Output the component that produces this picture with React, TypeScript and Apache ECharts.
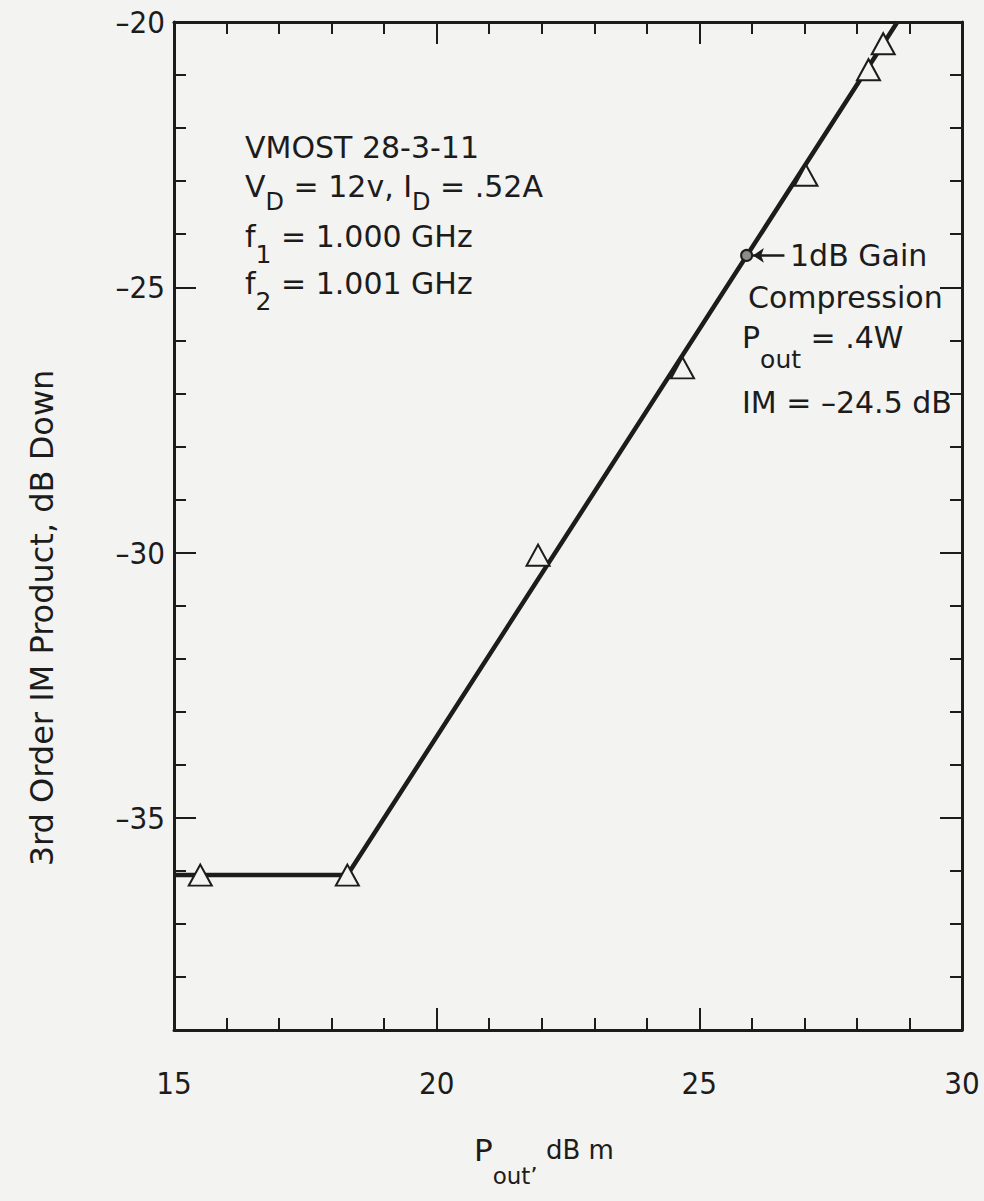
import React, { useEffect, useRef } from "react";
import * as echarts from "echarts";

// ---- data ----
const xTickLabels = [15, 20, 25, 30];
const yTickLabels = [-35, -30, -25, -20];
const xMajorTicks = [20, 25];
const yMajorTicks = [-35, -30, -25];
const measuredPout = [15.5, 18.3, 21.93, 24.68, 27.03, 28.22, 28.5];
const measuredIM = [-36.08, -36.08, -30.05, -26.52, -22.89, -20.9, -20.41];
const fitPout = [15, 18.3, 28.77];
const fitIM = [-36.08, -36.08, -20];
const compressionPout = [25.9];
const compressionIM = [-24.4];
const arrowPout = [26.62, 26.02];
const arrowIM = [-24.4, -24.4];

const INK = "#1c1c1c";
const BG = "#f3f3f1";
const F = '"DejaVu Sans", sans-serif';
const FN = '"DejaVu Sans Condensed", sans-serif';
const FS = 30;
const SUBFS = 25;

let ctx: CanvasRenderingContext2D | null = null;
function measure(t: string, size: number, fam: string) {
  if (!ctx) ctx = document.createElement("canvas").getContext("2d");
  if (!ctx) return t.length * size * 0.6;
  ctx.font = `${size}px ${fam}`;
  return ctx.measureText(t).width;
}

// parts: [text, subscript?, fontSize?]
function seq(x0: number, y: number, parts: [string, boolean, number?][], subDy = 20) {
  let x = x0;
  const out: any[] = [];
  for (const [t, sub, fs] of parts) {
    const size = fs || (sub ? SUBFS : FS);
    out.push({
      type: "text",
      x,
      y: sub ? y + subDy : y,
      z: 100,
      style: {
        text: t,
        fontSize: size,
        fontFamily: F,
        fill: INK,
        align: "left",
        verticalAlign: "middle",
      },
    });
    x += measure(t, size, F);
  }
  return out;
}

export default function App() {
  const ref = useRef<HTMLDivElement>(null);
  useEffect(() => {
    if (!ref.current) return;
    const chart = echarts.init(ref.current, null, { renderer: "svg" });
    const xFmt = (v: number) => (xTickLabels.includes(v) ? String(v) : "");
    const yFmt = (v: number) =>
      yTickLabels.includes(v) ? (v < 0 ? "\u2013" + -v : String(v)) : "";
    const xBase = { type: "value", min: 15, max: 30, interval: 1, splitLine: { show: false } };
    const yBase = { type: "value", min: -39, max: -20, interval: 1, splitLine: { show: false } };
    const line = { show: true, onZero: false, lineStyle: { color: INK, width: 3 } };
    const tick = { show: true, inside: true, length: 12, lineStyle: { color: INK, width: 2 } };
    const majTick = (vals: number[]) => ({
      show: true,
      inside: true,
      length: 22,
      customValues: vals,
      lineStyle: { color: INK, width: 2 },
    });
    const lbl = { fontSize: 31, fontFamily: FN, color: INK };
    const option: any = {
      animation: false,
      backgroundColor: BG,
      grid: { left: 174, right: 22, top: 22, bottom: 171 },
      xAxis: [
        {
          ...xBase,
          position: "bottom",
          axisLine: line,
          axisTick: tick,
          axisLabel: { ...lbl, formatter: xFmt, margin: 37 },
        },
        { ...xBase, position: "top", axisLine: line, axisTick: tick, axisLabel: { show: false } },
        {
          ...xBase,
          position: "bottom",
          axisLine: { show: false },
          axisTick: majTick(xMajorTicks),
          axisLabel: { show: false },
        },
        {
          ...xBase,
          position: "top",
          axisLine: { show: false },
          axisTick: majTick(xMajorTicks),
          axisLabel: { show: false },
        },
      ],
      yAxis: [
        {
          ...yBase,
          position: "left",
          axisLine: line,
          axisTick: tick,
          axisLabel: { ...lbl, formatter: yFmt, margin: 9 },
        },
        { ...yBase, position: "right", axisLine: line, axisTick: tick, axisLabel: { show: false } },
        {
          ...yBase,
          position: "left",
          axisLine: { show: false },
          axisTick: majTick(yMajorTicks),
          axisLabel: { show: false },
        },
        {
          ...yBase,
          position: "right",
          axisLine: { show: false },
          axisTick: majTick(yMajorTicks),
          axisLabel: { show: false },
        },
      ],
      series: [
        {
          type: "line",
          data: fitPout.map((p, i) => [p, fitIM[i]]),
          symbol: "none",
          lineStyle: { color: INK, width: 4.5 },
          z: 2,
        },
        {
          type: "scatter",
          data: measuredPout.map((p, i) => [p, measuredIM[i]]),
          symbol: "triangle",
          symbolSize: [23, 21],
          itemStyle: { color: BG, borderColor: INK, borderWidth: 2, opacity: 1 },
          z: 3,
        },
        {
          type: "lines",
          coordinateSystem: "cartesian2d",
          data: [{ coords: arrowPout.map((p, i) => [p, arrowIM[i]]) }],
          lineStyle: { color: INK, width: 2.5, opacity: 1 },
          symbol: ["none", "arrow"],
          symbolSize: 11,
          z: 4,
        },
        {
          type: "scatter",
          data: compressionPout.map((p, i) => [p, compressionIM[i]]),
          symbol: "circle",
          symbolSize: 11,
          itemStyle: { color: "#8c8c8c", borderColor: INK, borderWidth: 2, opacity: 1 },
          z: 5,
        },
      ],
      graphic: [
        ...seq(245, 147, [["VMOST 28-3-11", false]]),
        ...seq(245, 186, [
          ["V", false],
          ["D", true, 24],
          [" = 12v, I", false],
          ["D", true, 24],
          [" = .52A", false],
        ], 16),
        ...seq(245, 236, [["f", false], ["1", true], [" = 1.000 GHz", false]], 18),
        ...seq(245, 283, [["f", false], ["2", true], [" = 1.001 GHz", false]], 18),
        ...seq(790, 255, [["1dB Gain", false]]),
        ...seq(748, 297, [["Compression", false]]),
        ...seq(742, 337, [["P", false], ["out", true], [" = .4W", false]], 22),
        ...seq(742, 402, [["IM = \u201324.5 dB", false]]),
        ...seq(474, 1150, [["P", false, 31], ["out\u2019", true, 23], [" dB m", false, 26]], 26),
        {
          type: "text",
          x: 42,
          y: 618,
          rotation: Math.PI / 2,
          z: 100,
          style: {
            text: "3rd Order IM Product, dB Down",
            fontSize: 32,
            fontFamily: F,
            fill: INK,
            align: "center",
            verticalAlign: "middle",
          },
        },
      ],
    };
    chart.setOption(option);
    return () => chart.dispose();
  }, []);
  return (
    <div
      ref={ref}
      style={{ position: "fixed", left: 0, top: 0, width: 984, height: 1201, background: BG }}
    />
  );
}
